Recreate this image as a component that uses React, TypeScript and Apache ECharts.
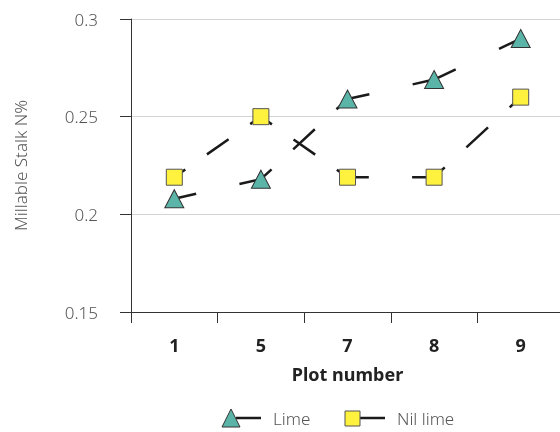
import React, { useEffect, useRef } from "react";
import * as echarts from "echarts";

const categories = ["1", "5", "7", "8", "9"];
const limeValues = [0.208, 0.218, 0.259, 0.269, 0.29];
const nilLimeValues = [0.219, 0.25, 0.219, 0.219, 0.26];
const yMin = 0.15;
const yMax = 0.3;
const yInterval = 0.05;

const FONT = "Noto Sans";
const TEAL = "#5BB4A8";
const YELLOW = "#FFF23F";
const LINE = "#1a1a1a";

function segments(values: number[]) {
  const out: number[][] = [];
  for (let i = 0; i < values.length - 1; i++) {
    out.push([i, values[i], i + 1, values[i + 1]]);
  }
  return out;
}

function renderSegment(params: any, api: any) {
  const p0 = api.coord([api.value(0), api.value(1)]);
  const p1 = api.coord([api.value(2), api.value(3)]);
  const L = Math.hypot(p1[0] - p0[0], p1[1] - p0[1]);
  const k = L > 100 ? 2 : 1;
  const d = L / (2 * k);
  return {
    type: "line",
    shape: { x1: p0[0], y1: p0[1], x2: p1[0], y2: p1[1] },
    style: {
      stroke: LINE,
      lineWidth: 2.5,
      lineDash: [d, d],
      lineDashOffset: d / 2,
      fill: null,
    },
  };
}

export default function App() {
  const ref = useRef<HTMLDivElement>(null);
  useEffect(() => {
    if (!ref.current) return;
    const chart = echarts.init(ref.current, null, { renderer: "svg" });
    chart.setOption({
      animation: false,
      textStyle: { fontFamily: FONT },
      grid: { left: 131, top: 19, width: 433, height: 293, containLabel: false },
      xAxis: {
        type: "category",
        data: categories,
        boundaryGap: true,
        axisLine: { lineStyle: { color: "#333", width: 1 } },
        axisTick: { show: true, length: 11, lineStyle: { color: "#333" } },
        axisLabel: {
          color: "#222",
          fontWeight: "bold",
          fontSize: 18,
          margin: 24,
          fontFamily: FONT,
        },
        name: "Plot number",
        nameLocation: "middle",
        nameGap: 53,
        nameTextStyle: {
          color: "#222",
          fontWeight: "bold",
          fontSize: 18,
          fontFamily: FONT,
        },
        splitLine: { show: false },
      },
      yAxis: {
        type: "value",
        min: yMin,
        max: yMax,
        interval: yInterval,
        axisLine: { show: true, lineStyle: { color: "#333", width: 1 } },
        axisTick: { show: true, length: 11, lineStyle: { color: "#333" } },
        axisLabel: {
          color: "#555",
          fontSize: 17,
          margin: 33,
          fontFamily: FONT,
          fontWeight: 300,
        },
        splitLine: { show: true, lineStyle: { color: "#d4d4d4", width: 1 } },
        name: "Millable Stalk N%",
        nameLocation: "middle",
        nameRotate: 90,
        nameGap: 102,
        nameTextStyle: {
          color: "#555",
          fontSize: 17,
          fontFamily: FONT,
          fontWeight: 300,
        },
      },
      series: [
        {
          type: "custom",
          name: "Lime line",
          data: segments(limeValues),
          encode: { x: [0, 2], y: [1, 3] },
          renderItem: renderSegment,
          z: 2,
          silent: true,
        },
        {
          type: "custom",
          name: "Nil lime line",
          data: segments(nilLimeValues),
          encode: { x: [0, 2], y: [1, 3] },
          renderItem: renderSegment,
          z: 2,
          silent: true,
        },
        {
          type: "scatter",
          name: "Lime",
          data: limeValues,
          symbol: "triangle",
          symbolSize: [19, 18],
          itemStyle: { color: TEAL, borderColor: "#333", borderWidth: 1, opacity: 1 },
          z: 3,
        },
        {
          type: "scatter",
          name: "Nil lime",
          data: nilLimeValues,
          symbol: "rect",
          symbolSize: 16,
          itemStyle: { color: YELLOW, borderColor: "#555", borderWidth: 1, opacity: 1 },
          z: 3,
        },
      ],
      graphic: [
        {
          type: "line",
          shape: { x1: 236, y1: 418, x2: 261, y2: 418 },
          style: { stroke: LINE, lineWidth: 2.5 },
          z: 10,
        },
        {
          type: "polygon",
          shape: { points: [[222, 427], [231, 409], [240, 427]] },
          style: { fill: TEAL, stroke: "#333", lineWidth: 1 },
          z: 11,
        },
        {
          type: "text",
          x: 273,
          y: 418,
          style: {
            text: "Lime",
            fill: "#555",
            fontSize: 17,
            fontFamily: FONT,
            fontWeight: 300,
            verticalAlign: "middle",
            align: "left",
          },
          z: 10,
        },
        {
          type: "line",
          shape: { x1: 355, y1: 418, x2: 385, y2: 418 },
          style: { stroke: LINE, lineWidth: 2.5 },
          z: 10,
        },
        {
          type: "rect",
          shape: { x: 345, y: 411, width: 15, height: 15 },
          style: { fill: YELLOW, stroke: "#555", lineWidth: 1 },
          z: 11,
        },
        {
          type: "text",
          x: 397,
          y: 418,
          style: {
            text: "Nil lime",
            fill: "#555",
            fontSize: 17,
            fontFamily: FONT,
            fontWeight: 300,
            verticalAlign: "middle",
            align: "left",
          },
          z: 10,
        },
      ],
    });
    return () => chart.dispose();
  }, []);
  return (
    <div
      ref={ref}
      style={{ position: "fixed", left: 0, top: 0, width: 568, height: 432 }}
    />
  );
}
